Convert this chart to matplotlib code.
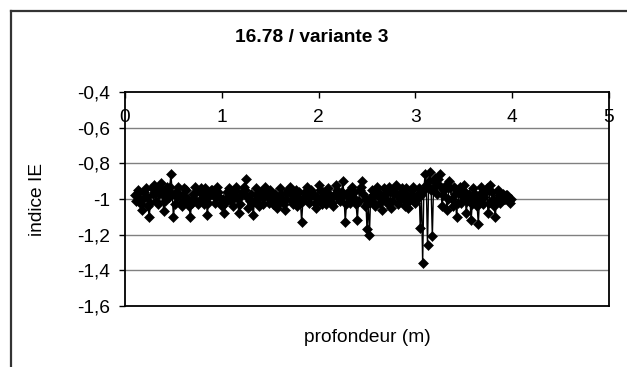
import matplotlib
matplotlib.use("Agg")
import matplotlib.pyplot as plt
from matplotlib.lines import Line2D
from matplotlib import transforms

plt.rcParams['font.family'] = ['Liberation Sans', 'DejaVu Sans']

title = "16.78 / variante 3"
x_label = "profondeur (m)"
y_label = "indice IE"

x_ticks = [0, 1, 2, 3, 4, 5]
y_ticks = [-1.6, -1.4, -1.2, -1.0, -0.8, -0.6, -0.4]

# depth (m)
depth = [
    0.1000, 0.1125, 0.1250, 0.1375, 0.1500, 0.1625, 0.1750, 0.1875,
    0.2000, 0.2125, 0.2250, 0.2375, 0.2500, 0.2625, 0.2750, 0.2875,
    0.3000, 0.3125, 0.3250, 0.3375, 0.3500, 0.3625, 0.3750, 0.3875,
    0.4000, 0.4125, 0.4250, 0.4375, 0.4500, 0.4625, 0.4750, 0.4875,
    0.5000, 0.5125, 0.5250, 0.5375, 0.5500, 0.5625, 0.5750, 0.5875,
    0.6000, 0.6125, 0.6250, 0.6375, 0.6500, 0.6625, 0.6750, 0.6875,
    0.7000, 0.7125, 0.7250, 0.7375, 0.7500, 0.7625, 0.7750, 0.7875,
    0.8000, 0.8125, 0.8250, 0.8375, 0.8500, 0.8625, 0.8750, 0.8875,
    0.9000, 0.9125, 0.9250, 0.9375, 0.9500, 0.9625, 0.9750, 0.9875,
    1.0000, 1.0125, 1.0250, 1.0375, 1.0500, 1.0625, 1.0750, 1.0875,
    1.1000, 1.1125, 1.1250, 1.1375, 1.1500, 1.1625, 1.1750, 1.1875,
    1.2000, 1.2125, 1.2250, 1.2375, 1.2500, 1.2625, 1.2750, 1.2875,
    1.3000, 1.3125, 1.3250, 1.3375, 1.3500, 1.3625, 1.3750, 1.3875,
    1.4000, 1.4125, 1.4250, 1.4375, 1.4500, 1.4625, 1.4750, 1.4875,
    1.5000, 1.5125, 1.5250, 1.5375, 1.5500, 1.5625, 1.5750, 1.5875,
    1.6000, 1.6125, 1.6250, 1.6375, 1.6500, 1.6625, 1.6750, 1.6875,
    1.7000, 1.7125, 1.7250, 1.7375, 1.7500, 1.7625, 1.7750, 1.7875,
    1.8000, 1.8125, 1.8250, 1.8375, 1.8500, 1.8625, 1.8750, 1.8875,
    1.9000, 1.9125, 1.9250, 1.9375, 1.9500, 1.9625, 1.9750, 1.9875,
    2.0000, 2.0125, 2.0250, 2.0375, 2.0500, 2.0625, 2.0750, 2.0875,
    2.1000, 2.1125, 2.1250, 2.1375, 2.1500, 2.1625, 2.1750, 2.1875,
    2.2000, 2.2125, 2.2250, 2.2375, 2.2500, 2.2625, 2.2750, 2.2875,
    2.3000, 2.3125, 2.3250, 2.3375, 2.3500, 2.3625, 2.3750, 2.3875,
    2.4000, 2.4125, 2.4250, 2.4375, 2.4500, 2.4625, 2.4750, 2.4875,
    2.5000, 2.5125, 2.5250, 2.5375, 2.5500, 2.5625, 2.5750, 2.5875,
    2.6000, 2.6125, 2.6250, 2.6375, 2.6500, 2.6625, 2.6750, 2.6875,
    2.7000, 2.7125, 2.7250, 2.7375, 2.7500, 2.7625, 2.7750, 2.7875,
    2.8000, 2.8125, 2.8250, 2.8375, 2.8500, 2.8625, 2.8750, 2.8875,
    2.9000, 2.9125, 2.9250, 2.9375, 2.9500, 2.9625, 2.9750, 2.9875,
    3.0000, 3.0125, 3.0250, 3.0375, 3.0500, 3.0625, 3.0750, 3.0875,
    3.1000, 3.1125, 3.1250, 3.1375, 3.1500, 3.1625, 3.1750, 3.1875,
    3.2000, 3.2125, 3.2250, 3.2375, 3.2500, 3.2625, 3.2750, 3.2875,
    3.3000, 3.3125, 3.3250, 3.3375, 3.3500, 3.3625, 3.3750, 3.3875,
    3.4000, 3.4125, 3.4250, 3.4375, 3.4500, 3.4625, 3.4750, 3.4875,
    3.5000, 3.5125, 3.5250, 3.5375, 3.5500, 3.5625, 3.5750, 3.5875,
    3.6000, 3.6125, 3.6250, 3.6375, 3.6500, 3.6625, 3.6750, 3.6875,
    3.7000, 3.7125, 3.7250, 3.7375, 3.7500, 3.7625, 3.7750, 3.7875,
    3.8000, 3.8125, 3.8250, 3.8375, 3.8500, 3.8625, 3.8750, 3.8875,
    3.9000, 3.9125, 3.9250, 3.9375, 3.9500, 3.9625, 3.9750, 3.9875,
]

# indice IE
ie = [
    -0.98, -1.01, -0.97, -0.95, -1.00, -1.03, -1.06, -1.00,
    -0.96, -0.94, -0.99, -1.04, -1.10, -1.02, -0.94, -0.97,
    -0.92, -0.96, -1.01, -1.03, -0.97, -0.94, -0.91, -0.98,
    -1.07, -1.01, -0.95, -0.93, -0.99, -0.93, -0.86, -0.97,
    -1.10, -1.03, -0.96, -0.99, -0.93, -0.97, -1.02, -1.04,
    -0.98, -0.94, -0.95, -1.01, -1.00, -1.04, -1.10, -1.02,
    -0.97, -1.00, -0.93, -0.96, -1.03, -1.01, -0.96, -0.94,
    -1.00, -1.03, -0.94, -0.98, -1.09, -1.02, -0.98, -0.95,
    -0.95, -0.98, -1.02, -0.99, -0.93, -0.96, -0.99, -1.03,
    -1.04, -1.00, -1.08, -1.02, -0.96, -0.99, -0.94, -0.97,
    -1.01, -1.04, -0.97, -0.95, -0.93, -1.00, -1.08, -1.03,
    -0.98, -0.96, -0.93, -0.95, -0.89, -0.99, -1.05, -1.01,
    -0.97, -1.02, -1.09, -1.01, -0.94, -0.97, -1.00, -1.04,
    -0.96, -0.98, -1.03, -0.99, -0.93, -0.96, -0.99, -1.02,
    -0.95, -0.98, -1.03, -1.01, -0.97, -0.99, -1.05, -1.02,
    -0.94, -0.97, -1.00, -1.03, -1.06, -1.00, -0.96, -0.95,
    -0.93, -0.97, -1.01, -1.03, -0.97, -0.95, -1.04, -1.00,
    -0.96, -1.02, -1.13, -1.01, -0.99, -0.96, -0.93, -0.98,
    -1.02, -0.99, -0.95, -0.97, -0.98, -1.02, -1.05, -0.99,
    -0.92, -0.95, -1.00, -1.03, -0.96, -0.98, -1.03, -1.00,
    -0.94, -0.97, -0.99, -1.02, -1.04, -0.98, -0.92, -0.95,
    -0.97, -1.00, -1.01, -0.96, -0.90, -0.98, -1.13, -1.03,
    -0.96, -0.99, -1.02, -0.98, -0.93, -0.96, -1.00, -1.03,
    -1.12, -1.01, -0.95, -0.93, -0.90, -0.97, -1.04, -1.00,
    -1.17, -1.02, -1.20, -0.99, -0.95, -0.98, -1.02, -1.04,
    -0.93, -0.96, -0.99, -1.02, -1.06, -1.00, -0.94, -0.97,
    -1.00, -1.03, -0.93, -0.96, -1.05, -1.01, -0.97, -0.94,
    -0.92, -0.98, -1.03, -1.00, -0.96, -0.94, -1.00, -1.04,
    -0.94, -0.98, -1.05, -1.01, -0.98, -0.95, -0.93, -0.99,
    -1.02, -1.00, -0.97, -0.94, -1.16, -0.98, -1.36, -0.95,
    -0.86, -0.92, -1.26, -0.90, -0.85, -0.95, -1.21, -0.93,
    -0.88, -0.91, -0.97, -0.89, -0.86, -0.93, -1.04, -0.98,
    -0.95, -0.92, -1.06, -1.00, -0.90, -0.94, -1.00, -1.04,
    -0.93, -0.97, -1.10, -1.02, -0.96, -0.93, -1.02, -0.99,
    -0.92, -0.96, -1.08, -1.01, -0.97, -0.99, -1.12, -1.03,
    -0.94, -0.97, -1.00, -1.04, -1.14, -1.00, -0.93, -0.96,
    -1.03, -0.99, -0.96, -0.94, -1.08, -1.02, -0.92, -0.96,
    -1.00, -1.04, -1.10, -1.01, -0.95, -0.98, -1.02, -0.99,
    -0.97, -1.00, -1.00, -0.98, -0.98, -1.01, -1.02, -1.00,
]

W, H = 627, 367
fig = plt.figure(figsize=(W / 100, H / 100), dpi=100)
fig.patch.set_facecolor("white")

# chart-area frame (top and left edges)
fig.add_artist(Line2D([10.5 / W, 1.0], [1 - 10.5 / H] * 2, color="#333333", lw=1.6))
fig.add_artist(Line2D([10.5 / W] * 2, [0.0, 1 - 10.5 / H], color="#333333", lw=1.6))

left, right, top, bottom = 125, 609, 92, 306
ax = fig.add_axes([left / W, 1 - bottom / H, (right - left) / W, (bottom - top) / H])

ax.set_xlim(x_ticks[0], x_ticks[-1])
ax.set_ylim(y_ticks[0], y_ticks[-1])

for v in y_ticks[1:-1]:
    ax.axhline(v, color="#808080", lw=1.0, zorder=1)

ax.plot(depth, ie, color="black", lw=1.0, marker="D", ms=5.6,
        mfc="black", mec="black", mew=0.4, zorder=3)

for s in ax.spines.values():
    s.set_color("black")
    s.set_linewidth(1.3)


def excel_label(v):
    txt = f"{v:.1f}".rstrip("0").rstrip(".")
    return txt.replace(".", ",")


fs = 13.8
ax.set_yticks(y_ticks)
ax.set_yticklabels([excel_label(v) for v in y_ticks], fontsize=fs)
ax.tick_params(axis="y", direction="out", length=4, width=1, pad=7)

ax.set_xticks(x_ticks)
ax.xaxis.set_ticks_position("top")
ax.tick_params(axis="x", direction="in", length=4, width=1, labeltop=False, labelbottom=False)
trans = transforms.blended_transform_factory(ax.transData, ax.transAxes)
for v in x_ticks:
    ax.text(v, 1 - 25 / (bottom - top), str(v), transform=trans, ha="center",
            va="center", fontsize=fs)

fig.text(312 / W, 1 - 38 / H, title, ha="center", va="center", fontsize=fs, fontweight="bold")
fig.text(367 / W, 1 - 338 / H, x_label, ha="center", va="center", fontsize=fs)
fig.text(38 / W, 1 - 199 / H, y_label, ha="center", va="center", fontsize=fs, rotation=90)

fig.savefig("out.png", dpi=100)
